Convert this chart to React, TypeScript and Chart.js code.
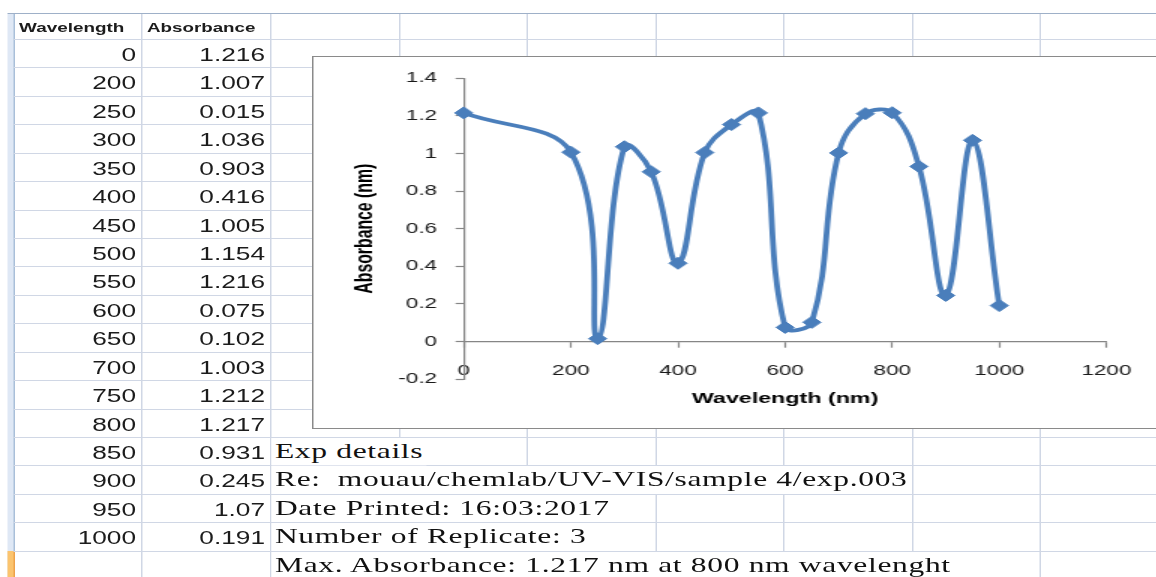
import React, { useEffect, useRef } from 'react';
import { Chart, registerables } from 'chart.js';

Chart.register(...registerables);

// ---------- data ----------
const wavelengths = [0, 200, 250, 300, 350, 400, 450, 500, 550, 600, 650, 700, 750, 800, 850, 900, 950, 1000];
const absorbance = [1.216, 1.007, 0.015, 1.036, 0.903, 0.416, 1.005, 1.154, 1.216, 0.075, 0.102, 1.003, 1.212, 1.217, 0.931, 0.245, 1.07, 0.191];
const xTickLabels = ['0', '200', '400', '600', '800', '1000', '1200'];
const yTickLabels = ['-0.2', '0', '0.2', '0.4', '0.6', '0.8', '1', '1.2', '1.4'];
const headerLabels = ['Wavelength', 'Absorbance'];
const notes = [
  'Exp details',
  'Re:  mouau/chemlab/UV-VIS/sample 4/exp.003',
  'Date Printed: 16:03:2017',
  'Number of Replicate: 3',
  'Max. Absorbance: 1.217 nm at 800 nm wavelenght',
];
const noteRowStart = 14;
const xTitle = 'Wavelength (nm)';
const yTitle = 'Absorbance (nm)';

// ---------- layout (unstretched units; whole sheet is stretched horizontally) ----------
const S = 1.5;
const W = 1156 / S;
const HEADER_TOP = 13.5;
const ROW0 = 39;
const ROW_H = 28.43;
const COL0 = 94.47;
const COL_W = 85.56;
const SANS = "'Liberation Sans', Arial, sans-serif";
const SERIF = "'Liberation Serif', 'Times New Roman', serif";
const GRID = '#d0d7e5';
const BLUE = '#4a7ebb';
const AXIS = '#868686';

const CANVAS_L = 208.7;
const CANVAS_T = 56.5;
const CANVAS_W = Math.round(W - CANVAS_L);
const CANVAS_H = 371;

const rowTop = (k: number) => ROW0 + ROW_H * k;

export default function App() {
  const canvasRef = useRef<HTMLCanvasElement>(null);

  useEffect(() => {
    document.body.style.margin = '0';
    const canvas = canvasRef.current;
    if (!canvas) return;
    const chart = new Chart(canvas, {
      type: 'line',
      data: {
        datasets: [
          {
            data: wavelengths.map((w, i) => ({ x: w, y: absorbance[i] })),
            borderColor: BLUE,
            backgroundColor: BLUE,
            borderWidth: 3.8,
            tension: 0.4,
            fill: false,
            clip: false as any,
            pointStyle: 'rectRot',
            pointRadius: 6,
            pointBorderWidth: 1,
            pointBackgroundColor: BLUE,
            pointBorderColor: BLUE,
          },
        ],
      },
      options: {
        responsive: false,
        animation: false,
        devicePixelRatio: 1,
        layout: { padding: { left: 0, top: 19.2, right: CANVAS_W - 528.6, bottom: CANVAS_H - 322.1 } },
        plugins: { legend: { display: false }, tooltip: { enabled: false } },
        scales: {
          x: {
            type: 'linear',
            position: { y: 0 } as any,
            min: 0,
            max: 1200,
            afterBuildTicks: (s: any) => {
              s.ticks = xTickLabels.map((l) => ({ value: Number(l) }));
            },
            afterFit: (s: any) => {
              s.height = 57.3 + (15.5 * 1.2) / 2;
            },
            ticks: {
              callback: (_v: any, i: number) => xTickLabels[i],
              font: { family: 'Liberation Sans', size: 15 },
              color: '#1a1a1a',
              padding: 15.2,
              autoSkip: false,
              maxRotation: 0,
            },
            grid: { display: true, drawOnChartArea: false, drawTicks: true, tickLength: 5.5, tickColor: AXIS, tickWidth: 1.2 },
            border: { display: true, color: AXIS, width: 1.2 },
            title: {
              display: true,
              text: xTitle,
              font: { family: 'Liberation Sans', size: 15.5, weight: 'bold' },
              color: '#000',
              padding: 0,
            },
          },
          y: {
            type: 'linear',
            position: 'left',
            min: -0.2,
            max: 1.4,
            afterBuildTicks: (s: any) => {
              s.ticks = yTickLabels.map((l) => ({ value: Number(l) }));
            },
            afterFit: (s: any) => {
              s.width = 100.2;
            },
            ticks: {
              callback: (_v: any, i: number) => yTickLabels[i],
              font: { family: 'Liberation Sans', size: 15 },
              color: '#1a1a1a',
              padding: 12.3,
              autoSkip: false,
            },
            grid: { display: true, drawOnChartArea: false, drawTicks: true, tickLength: 5.5, tickColor: AXIS, tickWidth: 1.2 },
            border: { display: true, color: AXIS, width: 1.2 },
            title: {
              display: true,
              text: yTitle,
              font: { family: 'Liberation Sans', size: 15.8, weight: 'bold' },
              color: '#000',
              padding: { top: 25.5, bottom: 0 },
            },
          },
        },
      } as any,
    });
    return () => chart.destroy();
  }, []);

  const hLines: React.ReactNode[] = [];
  for (let k = 0; k <= 18; k++) {
    hLines.push(
      <div key={'h' + k} style={{ position: 'absolute', left: 8.7, top: rowTop(k), width: W, height: 1, background: GRID }} />
    );
  }
  const vLines: React.ReactNode[] = [];
  for (let k = 0; k < 9; k++) {
    vLines.push(
      <div key={'v' + k} style={{ position: 'absolute', left: COL0 + COL_W * k, top: HEADER_TOP, width: 1, height: 577, background: GRID }} />
    );
  }

  const cellSans = (text: string, left: number, width: number, top: number, h: number, align: 'left' | 'right', size: number, bold: boolean, key: string) => (
    <div
      key={key}
      style={{
        position: 'absolute',
        left,
        top,
        width,
        height: h,
        lineHeight: h + 'px',
        textAlign: align,
        fontFamily: SANS,
        fontSize: size,
        fontWeight: bold ? 700 : 400,
        color: '#1c1c1c',
        whiteSpace: 'pre',
        transform: 'translateY(2.3px)',
      }}
    >
      {text}
    </div>
  );

  return (
    <div style={{ position: 'fixed', left: 0, top: 0, width: 1156, height: 577, overflow: 'hidden', background: '#fff' }}>
      <div style={{ position: 'absolute', left: 0, top: 0, width: W, height: 577, transform: `scaleX(${S})`, transformOrigin: '0 0' }}>
        {/* row header strip */}
        <div style={{ position: 'absolute', left: 5.3, top: HEADER_TOP, width: 3.4, height: 577, background: '#dfe8f5', borderRight: '0.8px solid #a9bfd9' }} />
        <div style={{ position: 'absolute', left: 5.3, top: rowTop(18), width: 3.4, height: 40, background: '#fbc46e', borderRight: '0.8px solid #eea24a' }} />
        {hLines}
        {vLines}
        {/* top header line */}
        <div style={{ position: 'absolute', left: 5.3, top: 13, width: W, height: 1.3, background: '#9eb0c8' }} />

        {/* header cells */}
        {cellSans(headerLabels[0], 12.7, 80, HEADER_TOP, ROW0 - HEADER_TOP, 'left', 12.6, true, 'hw')}
        {cellSans(headerLabels[1], 98, 80, HEADER_TOP, ROW0 - HEADER_TOP, 'left', 12.5, true, 'ha')}

        {wavelengths.map((w, k) => cellSans(String(w), 8.5, 82.2, rowTop(k), ROW_H, 'right', 17.5, false, 'w' + k))}
        {absorbance.map((a, k) => cellSans(String(a), 94.5, 82.2, rowTop(k), ROW_H, 'right', 17.5, false, 'a' + k))}

        {/* notes overflowing across cells */}
        {notes.map((n, i) => (
          <div
            key={'n' + i}
            style={{
              position: 'absolute',
              left: 180.8,
              top: rowTop(noteRowStart + i) + 1,
              height: ROW_H - 1,
              lineHeight: ROW_H - 1 + 'px',
              paddingLeft: 2.5,
              paddingRight: 2,
              background: '#fff',
              fontFamily: SERIF,
              fontSize: 21,
              letterSpacing: 0.45,
              color: '#111',
              whiteSpace: 'pre',
            }}
          >
            {n}
          </div>
        ))}

        {/* chart box */}
        <div
          style={{
            position: 'absolute',
            left: 207.7,
            top: 55.5,
            width: 620,
            height: 371,
            background: '#fff',
            border: '1px solid #8a8a8a',
          }}
        />
        <canvas
          ref={canvasRef}
          width={CANVAS_W}
          height={CANVAS_H}
          style={{ position: 'absolute', left: CANVAS_L, top: CANVAS_T, width: CANVAS_W, height: CANVAS_H }}
        />
      </div>
    </div>
  );
}
